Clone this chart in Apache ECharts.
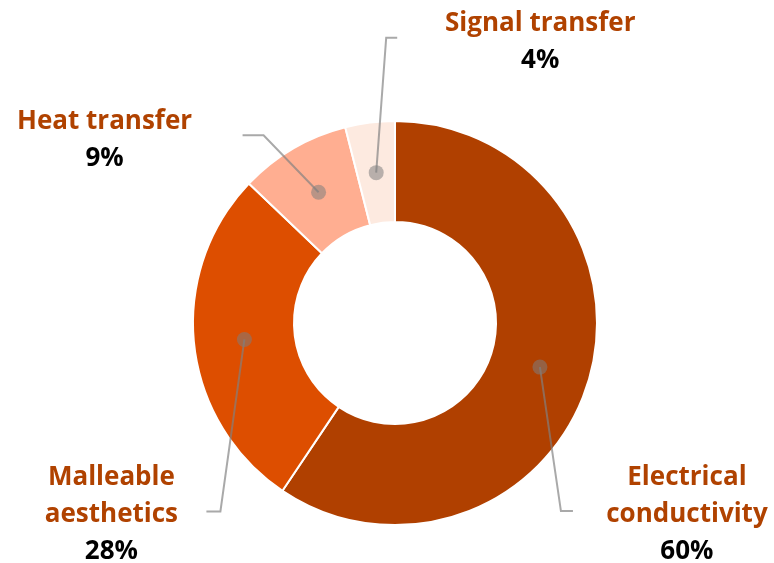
<!DOCTYPE html>
<html>
<head>
<meta charset="utf-8">
<script src="https://cdn.jsdelivr.net/npm/echarts@6/dist/echarts.min.js"></script>
<style>html,body{margin:0;padding:0;background:#fff}#c{width:774px;height:563px}</style>
</head>
<body>
<div id="c"></div>
<script>
// ---- data ----
const categories = ['Electrical\nconductivity', 'Malleable\naesthetics', 'Heat transfer', 'Signal transfer'];
const values = [60, 28, 9, 4];
// ---- styles / layout ----
const sliceColors = ['#B04000', '#DD4E00', '#FFAE91', '#FDEAE0'];
// leader-line elbow, end, and label anchor offsets from the leader start point
const leaderLayout = [
  { p1: [21, 144], p2: [33, 144], label: [147, 147] },
  { p1: [-24, 172], p2: [-38, 172], label: [-133, 175] },
  { p1: [-55, -57], p2: [-76, -57], label: [-214, -52] },
  { p1: [10, -135], p2: [21, -135], label: [164, -131] }
];
const center = [395, 323];
const inner = 101, outer = 202, mid = (inner + outer) / 2;

const total = values.reduce((a, b) => a + b, 0);
let cum = 0;
const dotData = values.map(v => { const m = cum + v / 2; cum += v; return [mid / outer, m]; });

const chart = echarts.init(document.getElementById('c'), null, { renderer: 'canvas' });
chart.setOption({
  backgroundColor: '#ffffff',
  animation: false,
  polar: { center: center, radius: outer },
  angleAxis: { type: 'value', min: 0, max: total, startAngle: 90, clockwise: true, show: false },
  radiusAxis: { type: 'value', min: 0, max: 1, show: false },
  series: [
    {
      type: 'pie',
      center: center,
      radius: [inner, outer],
      startAngle: 90,
      clockwise: true,
      silent: true,
      label: { show: false },
      labelLine: { show: false },
      itemStyle: { borderColor: '#ffffff', borderWidth: 2 },
      data: categories.map((c, i) => ({ name: c, value: values[i], itemStyle: { color: sliceColors[i] } }))
    },
    {
      type: 'pie',
      center: center,
      radius: [0, mid],
      startAngle: 90,
      clockwise: true,
      silent: true,
      z: 3,
      itemStyle: { color: 'rgba(0,0,0,0)' },
      emphasis: { disabled: true },
      label: {
        show: true,
        formatter: p => '{n|' + p.name + '}\n{v|' + p.value + '%}',
        align: 'center',
        rich: {
          n: { fontFamily: 'Open Sans', fontWeight: 'bold', fontSize: 26, color: '#B04200', lineHeight: 37, align: 'center' },
          v: { fontFamily: 'Open Sans', fontWeight: 'bold', fontSize: 26, color: '#000000', lineHeight: 37, align: 'center' }
        }
      },
      labelLine: { show: true, length: 20, length2: 10, lineStyle: { color: 'rgba(128,128,128,0.68)', width: 2 } },
      labelLayout: function (params) {
        const L = leaderLayout[params.dataIndex];
        const p0 = params.labelLinePoints ? params.labelLinePoints[0] : [0, 0];
        return {
          x: p0[0] + L.label[0],
          y: p0[1] + L.label[1],
          align: 'center',
          verticalAlign: 'middle',
          labelLinePoints: [
            [p0[0], p0[1]],
            [p0[0] + L.p1[0], p0[1] + L.p1[1]],
            [p0[0] + L.p2[0], p0[1] + L.p2[1]]
          ]
        };
      },
      data: categories.map((c, i) => ({ name: c, value: values[i] }))
    },
    {
      type: 'scatter',
      coordinateSystem: 'polar',
      symbol: 'circle',
      symbolSize: 15,
      silent: true,
      z: 5,
      itemStyle: { color: 'rgba(125,125,125,0.68)' },
      data: dotData
    }
  ]
});
</script>
</body>
</html>
